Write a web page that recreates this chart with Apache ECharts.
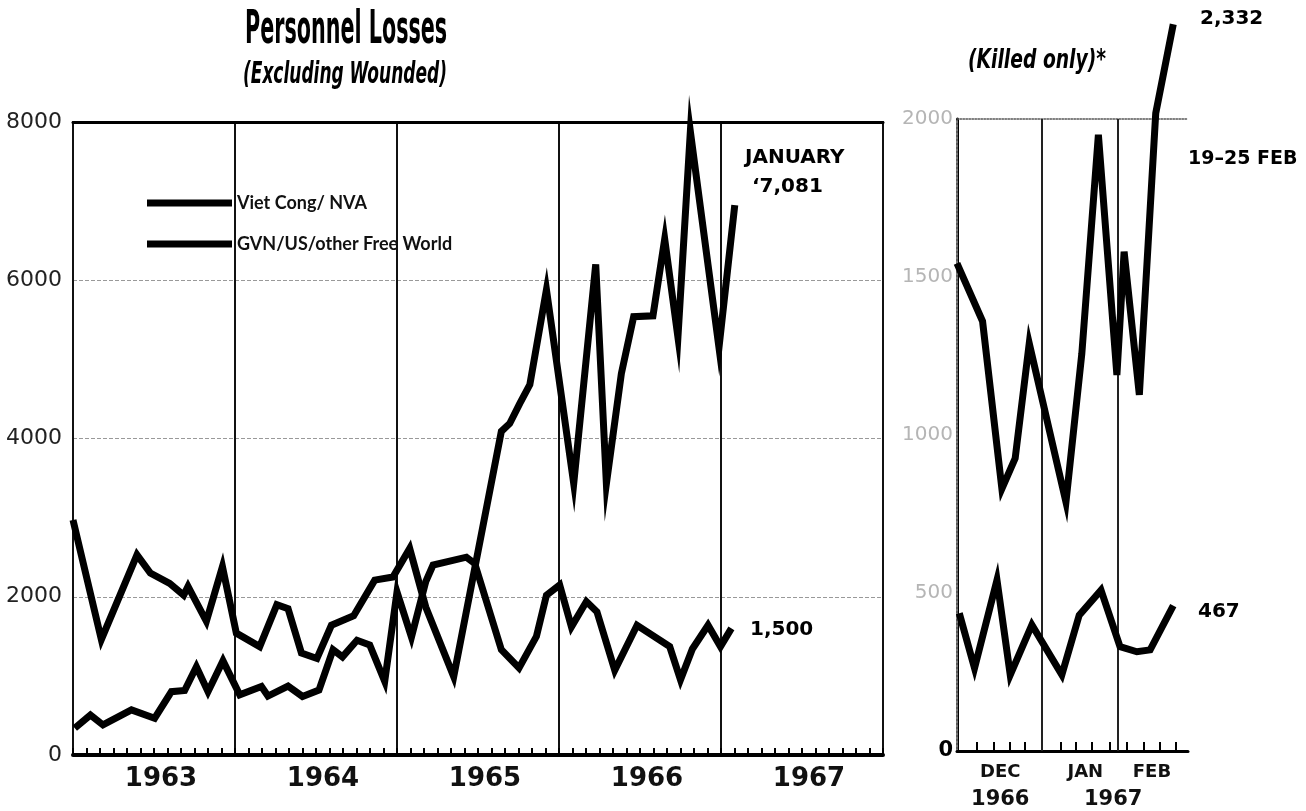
<!DOCTYPE html>
<html>
<head>
<meta charset="utf-8">
<title>Personnel Losses</title>
<script src="https://cdn.jsdelivr.net/npm/echarts@6/dist/echarts.min.js"></script>
<style>
  html, body { margin: 0; padding: 0; background: #fff; }
  #chart { width: 1306px; height: 811px; }
</style>
</head>
<body>
<div id="chart"></div>
<script>
// ==== DATA ====
// monthly losses, x = months since start of 1963
var years = ["1963", "1964", "1965", "1966", "1967"];
var vcMonthly = [
  [0, 2970], [2.1, 1460], [4.74, 2530], [5.73, 2300], [7.16, 2170], [8.2, 2020],
  [8.52, 2130], [9.88, 1690], [11.07, 2380], [12.1, 1540], [13.83, 1370], [15.1, 1900],
  [15.93, 1850], [16.92, 1290], [18.07, 1220], [19.14, 1640], [20.79, 1760], [22.35, 2210],
  [23.7, 2250], [24.94, 2610], [26.13, 1870], [28.2, 990], [31.73, 4090], [32.35, 4190],
  [33.09, 4440], [33.84, 4680], [35.07, 5880], [37.09, 3430], [38.72, 6200], [39.51, 3430],
  [40.62, 4820], [41.53, 5540], [42.96, 5550], [43.83, 6520], [44.81, 5280], [45.73, 7880],
  [47.85, 5150], [49.02, 6950]
];
var gvnMonthly = [
  [0.13, 340], [1.29, 505], [2.22, 380], [4.33, 570], [6.05, 465], [7.29, 800],
  [8.27, 815], [9.14, 1115], [10.0, 800], [11.11, 1190], [12.35, 760], [13.96, 865],
  [14.44, 745], [15.93, 870], [17.0, 740], [18.22, 820], [19.26, 1330], [19.96, 1240],
  [21.04, 1450], [21.98, 1390], [23.09, 930], [24.0, 2060], [25.07, 1490], [26.13, 2190],
  [26.67, 2400], [29.14, 2500], [29.76, 2420], [31.73, 1330], [33.04, 1100], [34.33, 1500],
  [35.07, 2020], [36.05, 2150], [36.92, 1620], [38.03, 1940], [38.81, 1810], [40.13, 1070],
  [41.78, 1640], [44.2, 1370], [45.0, 950], [45.88, 1340], [47.04, 1640], [47.96, 1370],
  [48.77, 1600]
];

// weekly killed, x = weeks since start of panel
var vcWeekly = [
  [0, 1543], [1.56, 1360], [2.74, 830], [3.55, 926], [4.41, 1290], [6.65, 788],
  [7.62, 1258], [8.63, 1950], [9.76, 1190], [10.2, 1580], [11.13, 1127], [12.13, 2018],
  [13.2, 2300]
];
var gvnWeekly = [
  [0.14, 436], [1.07, 262], [2.44, 541], [3.25, 241], [4.57, 399], [6.4, 241],
  [7.46, 430], [8.79, 509], [9.95, 330], [10.98, 314], [11.79, 320], [13.2, 460]
];
var weekTicks = [1.22, 2.23, 3.19, 4.16, 6.31, 7.27, 8.24, 9.35, 10.37, 11.38, 12.39, 13.35];
var monthDividers = [5.17, 9.79];
var monthLabels = ["DEC", "JAN", "FEB"];
var monthLabelAt = [2.64, 7.83, 11.9];
var yearLabels = ["1966", "1967"];
var yearLabelAt = [2.64, 9.53];

var seriesNames = ["Viet Cong/ NVA", "GVN/US/other Free World"];

// ==== CHART ====
var chart = echarts.init(document.getElementById("chart"), null, { renderer: "canvas" });

function thickLine(name, xIdx, yIdx, data) {
  return {
    name: name,
    type: "line",
    xAxisIndex: xIdx,
    yAxisIndex: yIdx,
    data: data,
    symbol: "none",
    clip: false,
    color: "#000",
    lineStyle: { color: "#000", width: 7, join: "miter", miterLimit: 12 },
    emphasis: { disabled: true },
    z: 5
  };
}

function pickLabel(labels, at) {
  return function (v) {
    var i = at.indexOf(v);
    return i >= 0 ? labels[i] : "";
  };
}

var boldFont = "DejaVu Sans";
var narrowFont = "'Liberation Sans Narrow', 'DejaVu Sans Condensed'";

var rightVC = thickLine(seriesNames[0], 2, 1, vcWeekly);
rightVC.markLine = {
  silent: true,
  symbol: "none",
  label: { show: false },
  lineStyle: { color: "#222", width: 2, type: "solid" },
  data: monthDividers.map(function (v) { return { xAxis: v }; })
};

chart.setOption({
  animation: false,
  backgroundColor: "#fff",
  grid: [
    { left: 73, top: 122, width: 810, height: 633, show: true, borderColor: "#222", borderWidth: 2 },
    { left: 957, top: 119, width: 231, height: 632 }
  ],
  legend: {
    data: seriesNames,
    orient: "vertical",
    left: 142,
    top: 187,
    icon: "rect",
    itemWidth: 85,
    itemHeight: 7,
    itemGap: 19,
    selectedMode: false,
    textStyle: { fontFamily: "Lato", fontWeight: "bold", fontSize: 18, color: "#111", lineHeight: 22 }
  },
  xAxis: [
    {
      // months, left panel
      type: "value", gridIndex: 0, min: 0, max: 60, interval: 1, position: "bottom",
      axisLine: { show: true, lineStyle: { color: "#000", width: 4 } },
      axisTick: { show: true, inside: true, length: 7, lineStyle: { color: "#000", width: 2 } },
      axisLabel: { show: false },
      splitLine: { show: false }
    },
    {
      // year blocks, left panel
      type: "category", gridIndex: 0, data: years, boundaryGap: true, position: "bottom",
      axisLine: { show: false },
      axisTick: { show: false },
      axisLabel: {
        margin: 11, padding: [0, 0, 0, 14],
        fontFamily: boldFont, fontWeight: "bold", fontSize: 26, color: "#111"
      },
      splitLine: { show: true, lineStyle: { color: "#111", width: 2 } }
    },
    {
      // weeks, right panel
      type: "value", gridIndex: 1, min: 0, max: 14.1, position: "bottom",
      axisLine: { show: true, lineStyle: { color: "#000", width: 3 } },
      axisTick: { show: true, inside: true, length: 9, customValues: weekTicks, lineStyle: { color: "#000", width: 2 } },
      axisLabel: {
        customValues: monthLabelAt, formatter: pickLabel(monthLabels, monthLabelAt),
        margin: 12, fontFamily: boldFont, fontWeight: "bold", fontSize: 18, color: "#111"
      },
      splitLine: { show: false }
    },
    {
      type: "value", gridIndex: 1, min: 0, max: 14.1, position: "bottom",
      axisLine: { show: false },
      axisTick: { show: false },
      axisLabel: {
        customValues: yearLabelAt, formatter: pickLabel(yearLabels, yearLabelAt),
        margin: 38, fontFamily: boldFont, fontWeight: "bold", fontSize: 21, color: "#111"
      },
      splitLine: { show: false }
    },
    {
      type: "value", gridIndex: 1, min: 0, max: 14.1, position: "top",
      axisLine: { show: true, lineStyle: { color: "#555", width: 1.5, type: "dotted" } },
      axisTick: { show: false }, axisLabel: { show: false }, splitLine: { show: false }
    },
    {
      type: "value", gridIndex: 0, min: 0, max: 60, position: "top",
      axisLine: { show: true, lineStyle: { color: "#000", width: 3 } },
      axisTick: { show: false }, axisLabel: { show: false }, splitLine: { show: false }
    }
  ],
  yAxis: [
    {
      type: "value", gridIndex: 0, min: 0, max: 8000, interval: 2000,
      axisLine: { show: false },
      axisTick: { show: false },
      axisLabel: {
        margin: 11, fontFamily: boldFont, fontSize: 22, color: "#222",
        formatter: function (v) { return String(v); }
      },
      splitLine: { show: true, lineStyle: { color: "#999", width: 1, type: "dashed" } }
    },
    {
      type: "value", gridIndex: 1, min: 0, max: 2000, interval: 500,
      axisLine: { show: true, lineStyle: { color: "#000", width: 3 } },
      axisTick: { show: false },
      axisLabel: {
        margin: 4,
        formatter: function (v) { return v === 0 ? "{z|0}" : "{g|" + v + "}"; },
        rich: {
          z: { fontFamily: boldFont, fontWeight: "bold", fontSize: 21, color: "#000" },
          g: { fontFamily: boldFont, fontSize: 20, color: "#b5b5b5" }
        }
      },
      splitLine: { show: false }
    },
    {
      type: "value", gridIndex: 1, min: 0, max: 2000, position: "right",
      axisLine: { show: true, lineStyle: { color: "#777", width: 2, type: "dotted" } },
      axisTick: { show: false }, axisLabel: { show: false }, splitLine: { show: false }
    }
  ],
  graphic: [
    {
      type: "text", x: 245, y: 8, scaleX: 0.5,
      style: { text: "Personnel Losses", font: "bold 46px " + narrowFont, fill: "#000" }
    },
    {
      type: "text", x: 243, y: 59, scaleX: 0.61,
      style: { text: "(Excluding Wounded)", font: "italic bold 31px " + narrowFont, fill: "#000" }
    },
    {
      type: "text", x: 968, y: 48, scaleX: 0.8,
      style: { text: "(Killed only)*", font: "italic bold 26px " + narrowFont, fill: "#000" }
    },
    { type: "text", x: 745, y: 148, style: { text: "JANUARY", font: "bold 20px 'DejaVu Sans'", fill: "#000" } },
    { type: "text", x: 752, y: 177, style: { text: "‘7,081", font: "bold 20px 'DejaVu Sans'", fill: "#000" } },
    { type: "text", x: 750, y: 620, style: { text: "1,500", font: "bold 20px 'DejaVu Sans'", fill: "#000" } },
    { type: "text", x: 1200, y: 9, style: { text: "2,332", font: "bold 20px 'DejaVu Sans'", fill: "#000" } },
    { type: "text", x: 1188, y: 150, style: { text: "19–25 FEB", font: "bold 19px 'DejaVu Sans'", fill: "#000" } },
    { type: "text", x: 1198, y: 602, style: { text: "467", font: "bold 20px 'DejaVu Sans'", fill: "#000" } }
  ],
  series: [
    thickLine(seriesNames[0], 0, 0, vcMonthly),
    thickLine(seriesNames[1], 0, 0, gvnMonthly),
    rightVC,
    thickLine(seriesNames[1], 2, 1, gvnWeekly)
  ]
});
</script>
</body>
</html>
